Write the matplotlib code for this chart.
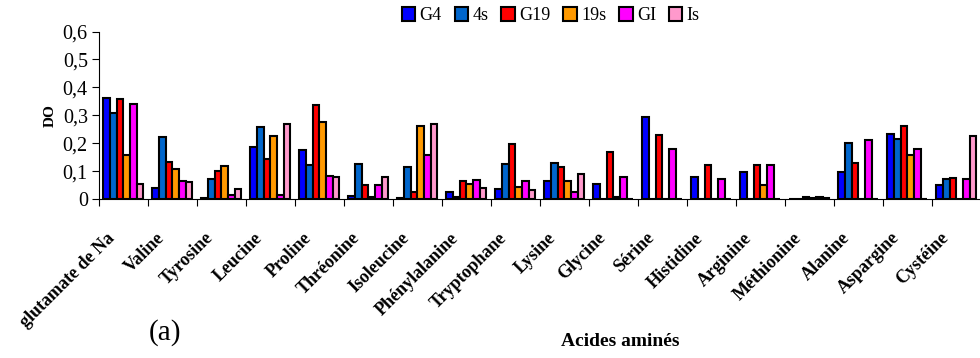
import numpy as np
import matplotlib
matplotlib.use("Agg")
import matplotlib.pyplot as plt
from matplotlib.ticker import FixedLocator, FuncFormatter
from matplotlib.transforms import ScaledTranslation

plt.rcParams['font.family'] = ['Liberation Serif', 'DejaVu Serif']

# Data
acides = ["glutamate de Na", "Valine", "Tyrosine", "Leucine", "Proline", "Thréonine",
          "Isoleucine", "Phénylalanine", "Tryptophane", "Lysine", "Glycine", "Sérine",
          "Histidine", "Arginine", "Méthionine", "Alanine", "Aspargine", "Cystéine"]
series = ["G4", "4s", "G19", "19s", "GI", "Is"]
g4  = [0.361, 0.040, 0.004, 0.189, 0.177, 0.012, 0.004, 0.028, 0.036, 0.067, 0.055, 0.296,
       0.079, 0.099, 0.002, 0.097, 0.233, 0.052]
s4  = [0.310, 0.224, 0.072, 0.258, 0.123, 0.127, 0.115, 0.010, 0.126, 0.131, 0.000, 0.000,
       0.000, 0.000, 0.002, 0.200, 0.216, 0.073]
g19 = [0.358, 0.135, 0.102, 0.145, 0.339, 0.052, 0.028, 0.064, 0.198, 0.117, 0.168, 0.230,
       0.122, 0.122, 0.008, 0.129, 0.264, 0.078]
s19 = [0.158, 0.108, 0.120, 0.228, 0.278, 0.010, 0.262, 0.055, 0.044, 0.066, 0.008, 0.000,
       0.000, 0.052, 0.006, 0.000, 0.159, 0.000]
gi  = [0.341, 0.066, 0.014, 0.017, 0.085, 0.052, 0.159, 0.070, 0.064, 0.028, 0.081, 0.180,
       0.072, 0.122, 0.007, 0.212, 0.180, 0.072]
is_ = [0.056, 0.061, 0.036, 0.270, 0.081, 0.081, 0.268, 0.040, 0.034, 0.090, 0.000, 0.000,
       0.000, 0.000, 0.004, 0.000, 0.000, 0.227]
colors = ["#0000FF", "#0066CC", "#FF0000", "#FF9900", "#FF00FF", "#FF99CC"]

fig = plt.figure(figsize=(9.8, 3.58), dpi=100)
ax = fig.add_axes([0.101, 0.443, 0.9, 0.469])

n = len(series)
w = 0.136
centers = np.arange(len(acides)) + 0.5
for i, (vals, name, col) in enumerate(zip([g4, s4, g19, s19, gi, is_], series, colors)):
    ax.bar(centers + (i - (n - 1) / 2) * w, vals, w, color=col, edgecolor="black",
           linewidth=1.5, label=name)

ax.set_xlim(0, len(acides))
ax.set_ylim(0, 0.6)
ax.set_yticks(np.arange(0, 0.61, 0.1))
ax.yaxis.set_major_formatter(FuncFormatter(lambda v, p: ("%.1f" % v).replace(".", ",") if v > 0 else "0"))
ax.tick_params(axis="y", labelsize=14.5, direction="out", length=5, pad=3)

ax.xaxis.set_major_locator(FixedLocator(np.arange(len(acides) + 1)))
ax.xaxis.set_minor_locator(FixedLocator(centers))
ax.tick_params(axis="x", which="major", labelbottom=False, direction="out", length=5)
ax.tick_params(axis="x", which="minor", length=0, pad=26)
ax.set_xticklabels(acides, minor=True, rotation=45, ha="right", va="center",
                   rotation_mode="anchor", fontsize=13, fontweight="bold")
shift = ScaledTranslation(-0.11, 0, fig.dpi_scale_trans)
for lab in ax.get_xticklabels(minor=True):
    lab.set_transform(lab.get_transform() + shift)

for s in ["top", "right"]:
    ax.spines[s].set_visible(False)

fig.text(0.051, 0.676, "DO", ha="center", va="center", rotation=90, fontsize=11, fontweight="bold")
fig.text(0.6326, 0.045, "Acides aminés", ha="center", va="center", fontsize=14, fontweight="bold")
fig.text(0.168, 0.07, "(a)", ha="center", va="center", fontsize=21)

fig.legend(loc="upper center", bbox_to_anchor=(0.562, 1.025), ncol=6, frameon=False,
           fontsize=13, handlelength=0.75, handleheight=0.75, handletextpad=0.25, columnspacing=0.7)

fig.savefig("out.png", dpi=100)
